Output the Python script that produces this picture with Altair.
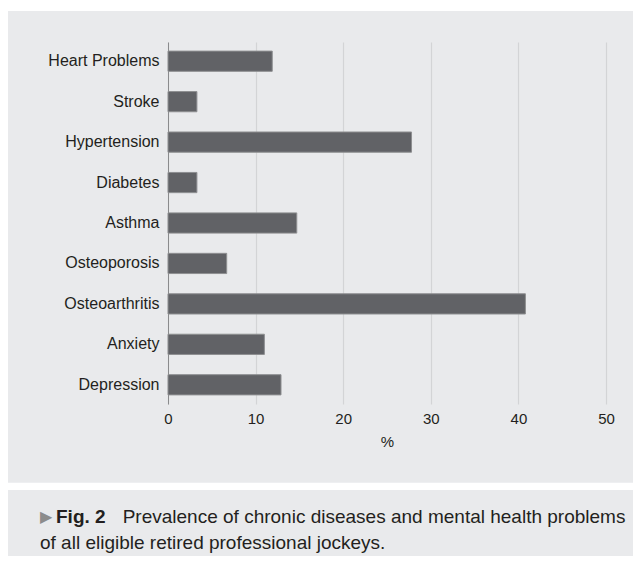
import altair as alt
import pandas as pd

categories = ["Heart Problems", "Stroke", "Hypertension", "Diabetes", "Asthma",
              "Osteoporosis", "Osteoarthritis", "Anxiety", "Depression"]
values = [11.9, 3.3, 27.8, 3.3, 14.7, 6.7, 40.8, 11.0, 12.9]
x_ticks = [0, 10, 20, 30, 40, 50]
x_title = "%"
cap_marker = "▶"
cap_bold = "Fig. 2"
cap_line1 = "Prevalence of chronic diseases and mental health problems"
cap_line2 = "of all eligible retired professional jockeys."

df = pd.DataFrame({"category": categories, "value": values})
one = alt.Data(values=[{}])
FONT = "Liberation Sans"
BG = "#e9eaec"

bars = alt.Chart(df).mark_bar(color="#616266", stroke="#8e8f91", strokeWidth=1).encode(
    x=alt.X("value:Q", scale=alt.Scale(domain=[0, 50], nice=False),
            axis=alt.Axis(values=x_ticks, title=x_title, grid=True, gridColor="#d3d4d6",
                          gridWidth=1.2, domain=False, ticks=False, labelPadding=7,
                          labelFlush=False,
                          labelFontSize=15, labelColor="#231f20", labelFont=FONT,
                          titleFont=FONT, titleFontSize=15, titleFontWeight="normal",
                          titleColor="#231f20", titlePadding=8)),
    y=alt.Y("category:N", sort=categories,
            scale=alt.Scale(paddingInner=0.5, paddingOuter=0.225),
            axis=alt.Axis(title=None, ticks=False, domain=True, domainColor="#8a8b8d",
                          domainWidth=1, labelPadding=9, labelFontSize=16,
                          labelColor="#231f20", labelFont=FONT, grid=False)),
)

white_top = alt.Chart(one).mark_rect(color="white").encode(
    x=alt.value(-170), x2=alt.value(480), y=alt.value(-40), y2=alt.value(-31))
white_gap = alt.Chart(one).mark_rect(color="white").encode(
    x=alt.value(-170), x2=alt.value(480), y=alt.value(440.7), y2=alt.value(448))

t_marker = alt.Chart(one).mark_text(text=cap_marker, align="left", baseline="alphabetic",
                                    font="DejaVu Sans", fontSize=16, color="#8c8c8c").encode(
    x=alt.value(-128), y=alt.value(479.5))
t_bold = alt.Chart(one).mark_text(text=cap_bold, align="left", baseline="alphabetic",
                                  font=FONT, fontSize=19, fontWeight="bold", color="#231f20").encode(
    x=alt.value(-112), y=alt.value(480.7))
t_line1 = alt.Chart(one).mark_text(text=cap_line1, align="left", baseline="alphabetic",
                                   font=FONT, fontSize=19, color="#231f20").encode(
    x=alt.value(-45.3), y=alt.value(480.7))
t_line2 = alt.Chart(one).mark_text(text=cap_line2, align="left", baseline="alphabetic",
                                   font=FONT, fontSize=19, color="#231f20").encode(
    x=alt.value(-128), y=alt.value(506.5))

chart = alt.layer(white_top, white_gap, bars, t_marker, t_bold, t_line1, t_line2).properties(
    width=438, height=362,
    autosize=alt.AutoSizeParams(type="none"),
    padding={"left": 160, "top": 34, "right": 27, "bottom": 152},
    background=BG,
).configure_view(stroke=None)

chart.save("out.html", embed_options={"renderer": "svg", "actions": False})
